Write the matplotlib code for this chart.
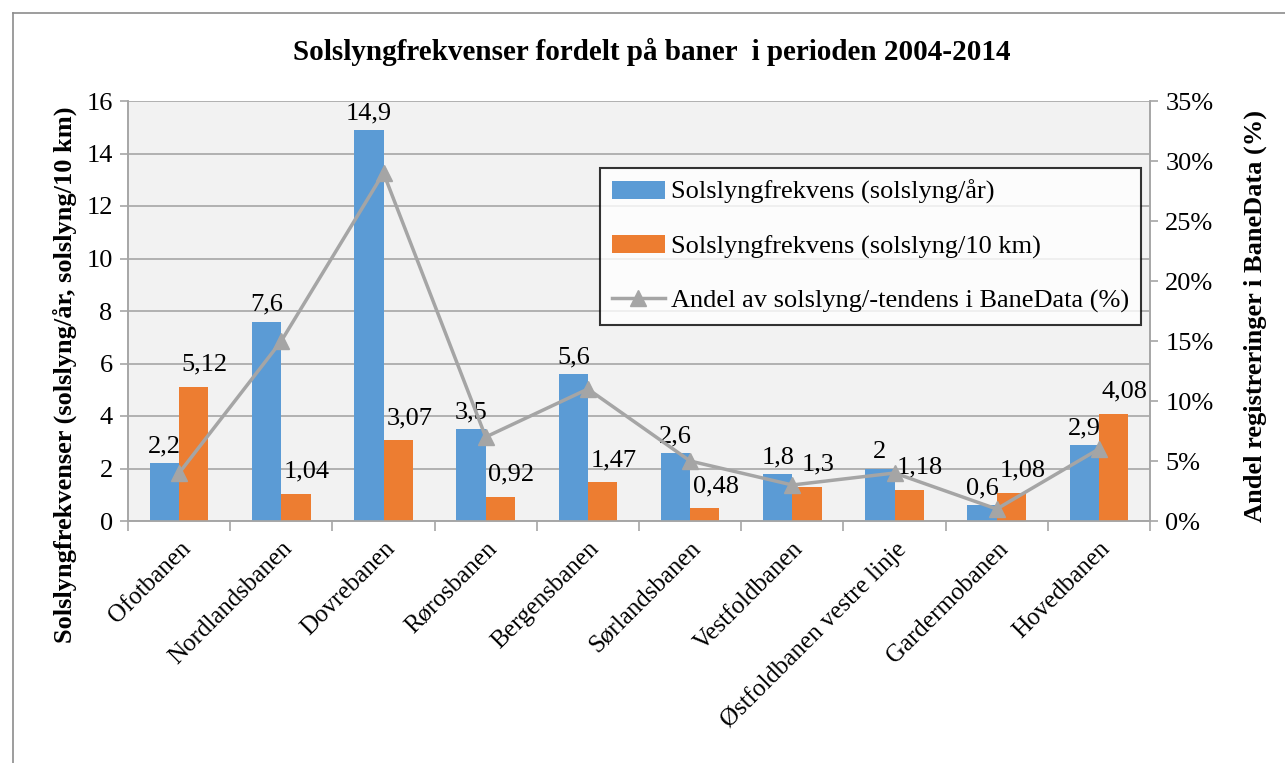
import matplotlib.pyplot as plt
import numpy as np
from matplotlib.lines import Line2D

plt.rcParams['font.family'] = ['Liberation Serif', 'DejaVu Serif']

baner = ["Ofotbanen", "Nordlandsbanen", "Dovrebanen", "Rørosbanen", "Bergensbanen",
         "Sørlandsbanen", "Vestfoldbanen", "Østfoldbanen vestre linje", "Gardermobanen", "Hovedbanen"]
per_aar = [2.2, 7.6, 14.9, 3.5, 5.6, 2.6, 1.8, 2, 0.6, 2.9]
per_10km = [5.12, 1.04, 3.07, 0.92, 1.47, 0.48, 1.3, 1.18, 1.08, 4.08]
andel = [4, 15, 29, 7, 11, 5, 3, 4, 1, 6]

blue = "#5b9bd5"
orange = "#ed7d31"
grey = "#a5a5a5"
fs = 19

fig = plt.figure(figsize=(12.85, 7.63), dpi=100)
ax = fig.add_axes([128/1285, 1-521/763, 1022/1285, 420/763])
ax.set_facecolor("#f2f2f2")
ax2 = ax.twinx()

x = np.arange(len(baner))
w = 0.286
b1 = ax.bar(x - w/2, per_aar, w, color=blue, label="Solslyngfrekvens (solslyng/år)", zorder=3)
b2 = ax.bar(x + w/2, per_10km, w, color=orange, label="Solslyngfrekvens (solslyng/10 km)", zorder=3)

def fmt(v):
    return ("%g" % v).replace(".", ",")

for xi, v in zip(x, per_aar):
    ax.annotate(fmt(v), (xi - w/2, v), xytext=(0, 4), textcoords="offset points",
                ha="center", va="bottom", fontsize=fs, zorder=5)
for xi, v in zip(x, per_10km):
    ax.annotate(fmt(v), (xi + w/2, v), xytext=(8, 8), textcoords="offset points",
                ha="center", va="bottom", fontsize=fs, zorder=5)

ln, = ax2.plot(x, andel, color=grey, lw=2.5, marker="^", ms=11, zorder=4,
               label="Andel av solslyng/-tendens i BaneData (%)")

ax.set_xlim(-0.5, len(baner) - 0.5)
ax.set_ylim(0, 16)
ax.set_yticks(range(0, 17, 2))
ax2.set_ylim(0, 35)
ax2.set_yticks(range(0, 36, 5))
ax2.set_yticklabels(["%d%%" % t for t in range(0, 36, 5)])

ax.grid(axis="y", color="#a6a6a6", lw=1.2, zorder=0)
ax.set_axisbelow(True)
for a in (ax, ax2):
    for s in a.spines.values():
        s.set_color("#a6a6a6")
        s.set_linewidth(1.2)
    a.spines["top"].set_visible(False)
    a.tick_params(axis="y", colors="#a6a6a6", labelcolor="black", labelsize=fs,
                  length=6, width=1.2, pad=5)

ax.set_xticks(x)
ax.set_xticklabels(baner, rotation=45, ha="right", rotation_mode="anchor", fontsize=18)
ax.tick_params(axis="x", length=0, pad=12)
ax.set_xticks(np.arange(-0.5, len(baner), 1), minor=True)
ax.tick_params(axis="x", which="minor", length=7, width=1.2, color="#a6a6a6")

fig.text(65/1285, 1 - 375/763, "Solslyngfrekvenser (solslyng/år, solslyng/10 km)", fontsize=fs,
         fontweight="bold", rotation=90, ha="center", va="center")
fig.text(1255/1285, 1 - 316/763, "Andel registreringer i BaneData (%)", fontsize=fs,
         fontweight="bold", rotation=90, ha="center", va="center")

fig.text(0.507, 1 - 52/763, "Solslyngfrekvenser fordelt på baner  i perioden 2004-2014",
         ha="center", va="center", fontsize=21, fontweight="bold")

leg = ax.legend(handles=[b1, b2, ln], loc="upper left", bbox_to_anchor=(0.462, 0.84),
                fontsize=fs, frameon=True, fancybox=False, edgecolor="black",
                labelspacing=1.15, handlelength=2.0, borderpad=0.45, handletextpad=0.25,
                borderaxespad=0)
leg.get_frame().set_linewidth(1.5)
leg.set_zorder(10)

fig.add_artist(Line2D([13/1285, 1], [1 - 13/763, 1 - 13/763], color="#8c8c8c", lw=1.2))
fig.add_artist(Line2D([13/1285, 13/1285], [0, 1 - 13/763], color="#8c8c8c", lw=1.2))

fig.savefig("out.png", dpi=100)
